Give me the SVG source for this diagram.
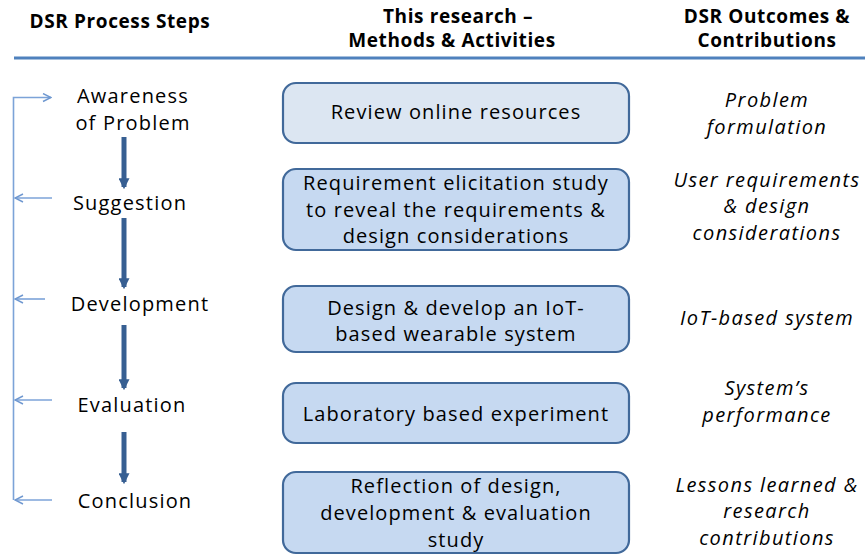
<svg xmlns="http://www.w3.org/2000/svg" width="865" height="556" viewBox="0 0 865 556">
<defs>
<style>
.h{font-family:"Open Sans","Liberation Sans",sans-serif;font-weight:bold;font-size:19px;letter-spacing:0.6px;fill:#000;text-anchor:middle}
.s{font-family:"Open Sans","Liberation Sans",sans-serif;font-size:20px;letter-spacing:1.2px;fill:#000;text-anchor:middle}
.b{font-family:"Open Sans","Liberation Sans",sans-serif;font-size:20px;letter-spacing:1.1px;fill:#000;text-anchor:middle}
.o{font-family:"Open Sans","Liberation Sans",sans-serif;font-style:italic;font-size:20px;letter-spacing:1.4px;fill:#000;text-anchor:middle}
.box{stroke:#41699a;stroke-width:2.2;fill:#c6d9f1}
.box1{fill:#dce6f2}
.down{stroke:#375f92;stroke-width:5;fill:none}
.fb{stroke:#7ca3d8;stroke-width:1.6;fill:none}
</style>
<marker id="ah" viewBox="0 0 10 10" refX="8" refY="5" markerWidth="2.2" markerHeight="2.2" orient="auto" markerUnits="strokeWidth">
<path d="M0,0 L10,5 L0,10 z" fill="#375f92"/>
</marker>
<marker id="oa" viewBox="0 0 10 10" refX="9" refY="5" markerWidth="10" markerHeight="10" orient="auto" markerUnits="userSpaceOnUse">
<path d="M1,1 L9,5 L1,9" fill="none" stroke="#6f98d0" stroke-width="1.4"/>
</marker>
</defs>
<rect width="865" height="556" fill="#fff"/>
<g id="header">
<text class="h" x="120" y="28">DSR Process Steps</text>
<text class="h" x="458" y="23">This research –</text>
<text class="h" x="452" y="47">Methods &amp; Activities</text>
<text class="h" x="767" y="23">DSR Outcomes &amp;</text>
<text class="h" x="767" y="47">Contributions</text>
<line x1="14" y1="58" x2="865" y2="58" stroke="#4f81bd" stroke-width="3"/>
</g>
<g id="step-awareness"><text class="s" x="133" y="103">Awareness</text><text class="s" x="133" y="130">of Problem</text></g>
<g id="step-suggestion"><text class="s" x="130" y="210">Suggestion</text></g>
<g id="step-development"><text class="s" x="140" y="311">Development</text></g>
<g id="step-evaluation"><text class="s" x="132" y="412">Evaluation</text></g>
<g id="step-conclusion"><text class="s" x="135" y="508">Conclusion</text></g>
<g id="method-1"><rect class="box box1" x="283" y="83" width="346" height="60" rx="13"/><text class="b" x="456" y="119">Review online resources</text></g>
<g id="method-2"><rect class="box" x="283" y="169" width="346" height="81" rx="13"/><text class="b" x="456" y="190">Requirement elicitation study</text><text class="b" x="456" y="217">to reveal the requirements &amp;</text><text class="b" x="456" y="243">design considerations</text></g>
<g id="method-3"><rect class="box" x="283" y="286" width="346" height="66" rx="13"/><text class="b" x="456" y="315">Design &amp; develop an IoT-</text><text class="b" x="456" y="341">based wearable system</text></g>
<g id="method-4"><rect class="box" x="283" y="383" width="346" height="60" rx="13"/><text class="b" x="456" y="421">Laboratory based experiment</text></g>
<g id="method-5"><rect class="box" x="283" y="472" width="346" height="81" rx="13"/><text class="b" x="456" y="493">Reflection of design,</text><text class="b" x="456" y="520">development &amp; evaluation</text><text class="b" x="456" y="547">study</text></g>
<g id="outcome-1"><text class="o" x="767" y="107">Problem</text><text class="o" x="767" y="134">formulation</text></g>
<g id="outcome-2"><text class="o" x="767" y="187">User requirements</text><text class="o" x="767" y="213">&amp; design</text><text class="o" x="767" y="240">considerations</text></g>
<g id="outcome-3"><text class="o" x="767" y="325">IoT-based system</text></g>
<g id="outcome-4"><text class="o" x="767" y="395">System’s</text><text class="o" x="767" y="422">performance</text></g>
<g id="outcome-5"><text class="o" x="767" y="492">Lessons learned &amp;</text><text class="o" x="767" y="518">research</text><text class="o" x="767" y="545">contributions</text></g>
<g id="connectors">
<line class="down" x1="124" y1="137" x2="124" y2="187" marker-end="url(#ah)"/>
<line class="down" x1="124" y1="218" x2="124" y2="287" marker-end="url(#ah)"/>
<line class="down" x1="124" y1="325" x2="124" y2="388" marker-end="url(#ah)"/>
<line class="down" x1="124" y1="432" x2="124" y2="482" marker-end="url(#ah)"/>
<path class="fb" d="M13.5,500 V97.5 H51" marker-end="url(#oa)"/>
<line class="fb" x1="52" y1="198" x2="15" y2="198" marker-end="url(#oa)"/>
<line class="fb" x1="45" y1="299" x2="15" y2="299" marker-end="url(#oa)"/>
<line class="fb" x1="52" y1="400" x2="15" y2="400" marker-end="url(#oa)"/>
<line class="fb" x1="52" y1="500" x2="15" y2="500" marker-end="url(#oa)"/>
</g>
</svg>
